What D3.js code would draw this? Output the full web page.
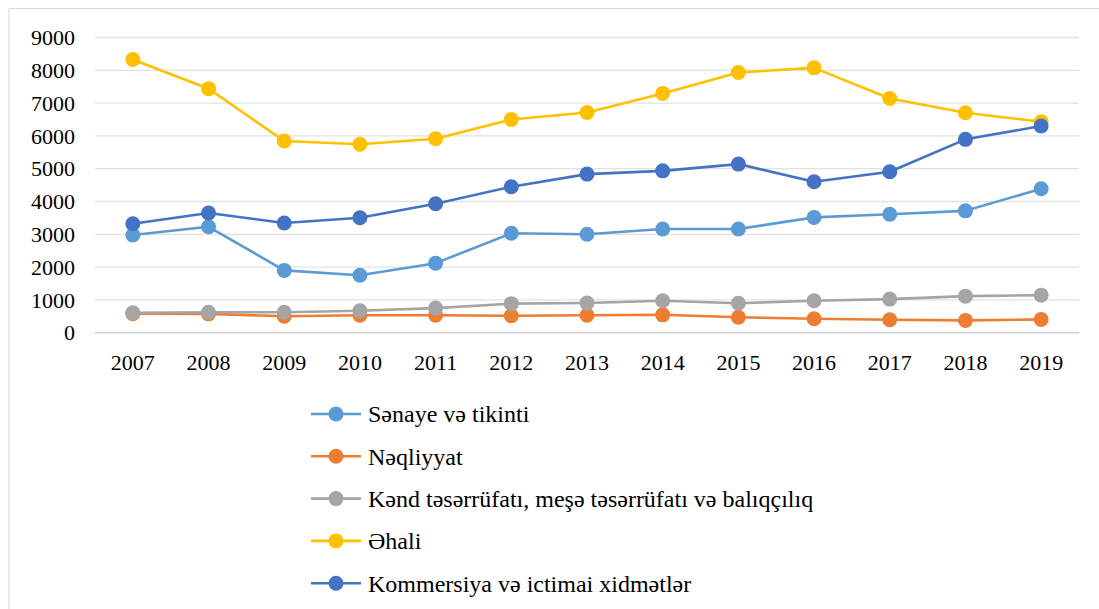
<!DOCTYPE html>
<html>
<head>
<meta charset="utf-8">
<script src="https://cdn.jsdelivr.net/npm/d3@7"></script>
</head>
<body style="margin:0">
<div id="chart"></div>
<script>

// years on the x axis
const years = ['2007', '2008', '2009', '2010', '2011', '2012', '2013',
               '2014', '2015', '2016', '2017', '2018', '2019'];

const yTicks = [0, 1000, 2000, 3000, 4000, 5000, 6000, 7000, 8000, 9000];

// series values
const senaye = [2980, 3230, 1900, 1750, 2120, 3030, 3000, 3160, 3160, 3515, 3610, 3715, 4390];
const neqliyyat = [580, 575, 500, 530, 530, 515, 530, 545, 470, 425, 395, 375, 405];
const kend = [605, 625, 625, 670, 750, 885, 905, 975, 900, 975, 1025, 1115, 1145];
const ehali = [8330, 7440, 5845, 5745, 5915, 6500, 6715, 7295, 7935, 8075, 7140, 6705, 6430];
const kommersiya = [3320, 3650, 3345, 3505, 3930, 4450, 4835, 4935, 5140, 4600, 4905, 5895, 6300];

const seriesNames = ['Sənaye və tikinti', 'Nəqliyyat',
                     'Kənd təsərrüfatı, meşə təsərrüfatı və balıqçılıq',
                     'Əhali', 'Kommersiya və ictimai xidmətlər'];
const seriesValues = [senaye, neqliyyat, kend, ehali, kommersiya];
const seriesColors = ['#5B9BD5', '#ED7D31', '#A5A5A5', '#FFC000', '#4472C4'];

const FONT = "'Liberation Serif'";


function createSVG(containerId, width, height) {

    try {

        let svg = d3.select(containerId)
            .append('svg')
            .attr('width', width)
            .attr('height', height)
            .attr('font-family', 'Liberation Serif');
        return svg;

    } catch (error) {

        console.log('createSVG. Error: ' + error);
        return null;
    }
}

function addText(parent, x, y, dy, anchor, str, size) {
    return parent.append('text')
        .attr('x', x).attr('y', y)
        .attr('dy', dy)
        .attr('text-anchor', anchor)
        .attr('font-size', size || 22)
        .attr('fill', '#000')
        .style('font-family', FONT)
        .text(str);
}

function drawChart(svg) {

    const left = 95, right = 1079, top = 37.5, bottom = 332.7;

    // outer frame of the chart object
    svg.append('rect')
        .attr('x', 9).attr('y', 8.5)
        .attr('width', 1200).attr('height', 700)
        .attr('fill', 'none')
        .attr('stroke', '#d9d9d9')
        .attr('stroke-width', 1);

    let x = d3.scalePoint().domain(years).range([left, right]).padding(0.5);
    let y = d3.scaleLinear().domain([0, 9000]).range([bottom, top]);

    // horizontal grid
    svg.append('g').selectAll('line')
        .data(yTicks).enter()
        .append('line')
        .attr('x1', left).attr('x2', right)
        .attr('y1', d => y(d)).attr('y2', d => y(d))
        .attr('stroke', d => d === 0 ? '#d0d0d0' : '#e2e2e2')
        .attr('stroke-width', d => d === 0 ? 1.6 : 1.3);

    // axis labels from the scales
    let fmt = y.tickFormat(10, 'd');
    yTicks.forEach(t => addText(svg, 75, y(t), '0.35em', 'end', fmt(t)));
    x.domain().forEach(yr => addText(svg, x(yr), 354, '0.72em', 'middle', yr));

    let line = d3.line()
        .x((d, i) => x(years[i]))
        .y(d => y(d));

    seriesValues.forEach((vals, s) => {

        let g = svg.append('g');

        g.append('path')
            .datum(vals)
            .attr('d', line)
            .attr('fill', 'none')
            .attr('stroke', seriesColors[s])
            .attr('stroke-width', 2.6)
            .attr('stroke-linejoin', 'round');

        g.selectAll('circle')
            .data(vals).enter()
            .append('circle')
            .attr('cx', (d, i) => x(years[i]))
            .attr('cy', d => y(d))
            .attr('r', 7.5)
            .attr('fill', seriesColors[s]);
    });

    // legend
    let legend = svg.append('g');
    seriesNames.forEach((name, s) => {

        let ly = 414 + s * 42.3;

        legend.append('line')
            .attr('x1', 311).attr('x2', 361)
            .attr('y1', ly).attr('y2', ly)
            .attr('stroke', seriesColors[s])
            .attr('stroke-width', 2.6);

        legend.append('circle')
            .attr('cx', 336).attr('cy', ly)
            .attr('r', 7.5)
            .attr('fill', seriesColors[s]);

        addText(legend, 368, ly, '0.35em', 'start', name, 24);
    });
}

let svg = createSVG('#chart', 1099, 609);
drawChart(svg);

</script>
</body>
</html>
